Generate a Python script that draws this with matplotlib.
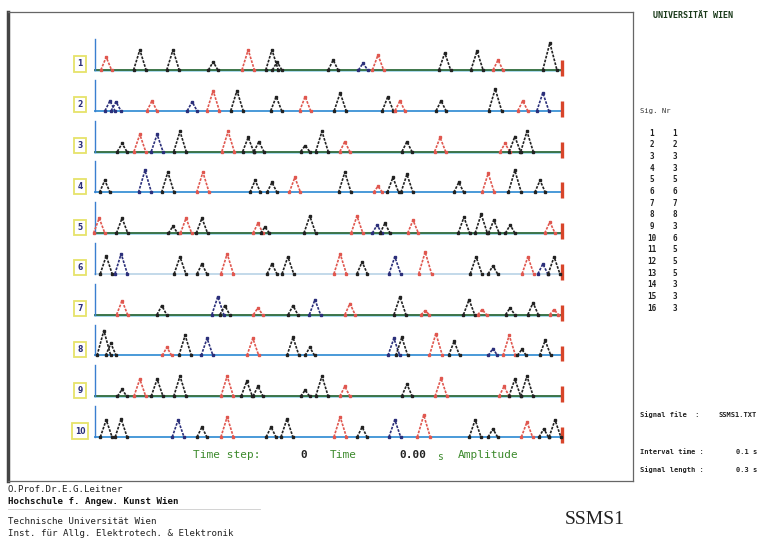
import numpy as np
import matplotlib
matplotlib.use('Agg')
import matplotlib.pyplot as plt

# peak positions (percent of signal length), amplitudes and colours, per row
pos1 = [2.4, 9.6, 16.7, 25.3, 32.8, 37.9, 39.0, 51.0, 57.4, 60.6, 74.9, 81.8, 86.3, 97.4]
amp1 = [0.43, 0.67, 0.67, 0.27, 0.67, 0.67, 0.27, 0.33, 0.23, 0.5, 0.57, 0.63, 0.33, 0.9]
col1 = 'rkkkrkkkbrkkrk'

pos2 = [3.2, 4.5, 12.2, 20.8, 25.3, 30.4, 38.8, 45.0, 52.5, 62.7, 65.3, 74.1, 85.7, 91.6, 95.9]
amp2 = [0.33, 0.3, 0.33, 0.3, 0.67, 0.67, 0.47, 0.47, 0.6, 0.47, 0.33, 0.33, 0.73, 0.33, 0.6]
col2 = 'bbrbrkkrkkrkkrb'

pos3 = [5.8, 9.6, 13.3, 18.2, 28.5, 32.8, 35.1, 45.0, 48.6, 53.5, 66.8, 73.9, 87.8, 89.9, 92.5]
amp3 = [0.27, 0.57, 0.57, 0.67, 0.67, 0.47, 0.33, 0.2, 0.67, 0.33, 0.33, 0.47, 0.27, 0.5, 0.67]
col3 = 'krbkrkkkkrkrrkk'

pos4 = [2.1, 10.7, 15.6, 23.1, 34.3, 37.9, 42.8, 53.5, 60.6, 63.8, 66.8, 77.9, 84.2, 89.9, 95.3]
amp4 = [0.4, 0.73, 0.67, 0.67, 0.4, 0.33, 0.5, 0.67, 0.2, 0.5, 0.6, 0.33, 0.63, 0.73, 0.4]
col4 = 'kbkrkkrkrkkkrkk'

pos5 = [0.9, 5.8, 16.7, 19.5, 22.9, 34.9, 36.4, 46.0, 56.1, 60.4, 62.1, 68.1, 79.0, 82.7, 85.4, 88.9, 97.4]
amp5 = [0.5, 0.5, 0.23, 0.5, 0.5, 0.33, 0.2, 0.57, 0.57, 0.27, 0.33, 0.43, 0.53, 0.63, 0.43, 0.27, 0.37]
col5 = 'rkkrkrkkrbkrkkkkr'

pos6 = [2.4, 5.6, 18.2, 22.9, 28.3, 37.9, 41.3, 52.5, 57.2, 64.2, 70.7, 81.6, 85.2, 92.7, 95.9, 98.3]
amp6 = [0.6, 0.67, 0.57, 0.33, 0.67, 0.33, 0.57, 0.67, 0.4, 0.57, 0.73, 0.57, 0.27, 0.57, 0.33, 0.57]
col6 = 'kbkkrkkrkbrkkrbk'

pos7 = [5.8, 14.3, 26.3, 27.8, 34.9, 42.4, 47.1, 54.6, 65.3, 70.7, 80.1, 82.9, 88.9, 93.8, 98.3]
amp7 = [0.47, 0.3, 0.6, 0.3, 0.23, 0.3, 0.5, 0.37, 0.6, 0.13, 0.5, 0.17, 0.23, 0.4, 0.17]
col7 = 'rkbkrkbrkrkrkkr'

pos8 = [1.9, 3.4, 15.4, 19.3, 24.0, 33.8, 42.4, 46.0, 64.0, 65.7, 73.0, 76.9, 85.2, 88.7, 91.4, 96.4]
amp8 = [0.83, 0.4, 0.27, 0.67, 0.57, 0.57, 0.6, 0.27, 0.57, 0.6, 0.73, 0.47, 0.23, 0.67, 0.2, 0.5]
col8 = 'kkrkbrkkbkrkbrkk'

pos9 = [5.8, 9.6, 13.3, 18.2, 28.3, 32.5, 34.9, 45.0, 48.6, 53.5, 66.8, 74.1, 87.6, 89.9, 92.5]
amp9 = [0.23, 0.57, 0.57, 0.67, 0.67, 0.5, 0.33, 0.2, 0.67, 0.33, 0.4, 0.6, 0.33, 0.57, 0.67]
col9 = 'krkkrkkkkrkrrkk'

pos10 = [2.4, 5.6, 17.8, 22.9, 28.3, 37.7, 41.1, 52.5, 57.2, 64.2, 70.4, 81.4, 85.2, 92.5, 96.1, 98.5]
amp10 = [0.57, 0.6, 0.57, 0.33, 0.67, 0.33, 0.6, 0.67, 0.33, 0.57, 0.73, 0.57, 0.27, 0.5, 0.27, 0.57]
col10 = 'kkbkrkkrkbrkkrkk'

rows = [(pos1, amp1, col1), (pos2, amp2, col2), (pos3, amp3, col3), (pos4, amp4, col4),
        (pos5, amp5, col5), (pos6, amp6, col6), (pos7, amp7, col7), (pos8, amp8, col8),
        (pos9, amp9, col9), (pos10, amp10, col10)]
row_labels = ['1', '2', '3', '4', '5', '6', '7', '8', '9', '10']
base_style = ['g', 'b', 'g', 'b', 'g', 'l', 'g', 'b', 'g', 'b']

sig_nr = [str(i) for i in range(1, 17)]
sig_val = ['1', '2', '3', '3', '5', '6', '7', '8', '3', '6', '5', '5', '5', '3', '3', '3']

colors = {'k': '#222222', 'r': '#e0574f', 'b': '#2b2f7a'}

W, H = 761, 543
fig = plt.figure(figsize=(W / 100, H / 100), dpi=100)

def fx(px):
    return px / W

def fy(py):
    return 1 - py / H

# outer frame
frame = fig.add_axes([fx(8), fy(481), fx(625), 469 / H])
frame.set_xticks([])
frame.set_yticks([])
for s in frame.spines.values():
    s.set_color('#666666')
    s.set_linewidth(0.9)
frame.spines['left'].set_linewidth(2.5)
frame.spines['left'].set_color('#444444')

# main plotting area: t from 0..100 maps to px 95..562, 1 amplitude unit = 30 px
px_per_t = 4.67
px_per_a = 30.0
spacing = (437 - 70) / 9 / px_per_a
ax = fig.add_axes([fx(60), fy(460), fx(540), 440 / H])
ax.set_xlim((60 - 95) / px_per_t, (600 - 95) / px_per_t)
ax.set_ylim(-(460 - 70) / px_per_a, (70 - 20) / px_per_a)
ax.axis('off')
ax.patch.set_alpha(0)

for i, (pos, amp, col) in enumerate(rows):
    y0 = -i * spacing
    st = base_style[i]
    if st == 'g':
        ax.plot([0, 100], [y0 - 0.04, y0 - 0.04], color='#9cd3ea', lw=1.2, zorder=1)
        ax.plot([0, 100], [y0, y0], color='#2e6b3c', lw=1.3, zorder=2)
    elif st == 'b':
        ax.plot([0, 100], [y0, y0], color='#4a9ad8', lw=1.4, zorder=2)
    else:
        ax.plot([0, 100], [y0, y0], color='#b9d3e6', lw=1.2, zorder=2)
    # left axis line
    ax.plot([0, 0], [y0, y0 + 1.03], color='#3a7fd0', lw=1.0, zorder=2)
    # end marker
    ax.plot([100, 100], [y0 - 0.2, y0 + 0.33], color='#d8452a', lw=2.4,
            solid_capstyle='butt', zorder=3)
    # row label box
    ax.text(-3.2, y0 + 0.2, row_labels[i], ha='center', va='center',
            fontsize=5.5, fontweight='bold', color='#2b2f7a', family='DejaVu Sans',
            bbox=dict(boxstyle='square,pad=0.4', fc='white', ec='#e6e36a', lw=1.3))
    for p, a, c in zip(pos, amp, col):
        hw = 0.8 + a * 0.8
        xs = [p - hw, p, p + hw]
        ys = [y0, y0 + a, y0]
        ax.plot(xs, ys, color=colors[c], lw=1.2, linestyle=(0, (1.6, 0.8)), zorder=4)
        ax.plot(xs, ys, linestyle='none', marker='s', markersize=1.8,
                color=colors[c], zorder=5)

mono = 'DejaVu Sans Mono'

# header top right
fig.text(fx(653), fy(15), 'UNIVERSITÄT WIEN', fontsize=6, fontweight='bold',
         family=mono, color='#1a3a1a', va='center')

# legend on the right
fig.text(fx(640), fy(111), 'Sig. Nr', fontsize=5.2, family=mono, color='#333333', va='center')
for k, (a, b) in enumerate(zip(sig_nr, sig_val)):
    yy = 133 + k * 11.67
    fig.text(fx(652), fy(yy), a, fontsize=5.5, fontweight='bold', family=mono,
             color='#222222', ha='center', va='center')
    fig.text(fx(675), fy(yy), b, fontsize=5.5, fontweight='bold', family=mono,
             color='#222222', ha='center', va='center')

info_labels = ['Signal file  :', 'Interval time :', 'Signal length :']
info_values = ['SSMS1.TXT', '0.1 s', '0.3 s']
info_y = [415, 452, 470]
for lab, val, yy in zip(info_labels, info_values, info_y):
    fig.text(fx(640), fy(yy), lab, fontsize=5, fontweight='bold', family=mono,
             color='#222222', va='center')
    fig.text(fx(757), fy(yy), val, fontsize=5, fontweight='bold', family=mono,
             color='#222222', va='center', ha='right')

# status line under the plot
green = '#3c8a2c'
fig.text(fx(193), fy(455), 'Time step:', fontsize=8, family=mono, color=green, va='center')
fig.text(fx(300), fy(455), '0', fontsize=8, fontweight='bold', family=mono, color='#222222', va='center')
fig.text(fx(330), fy(455), 'Time', fontsize=8, family=mono, color=green, va='center')
fig.text(fx(399), fy(455), '0.00', fontsize=8, fontweight='bold', family=mono, color='#222222', va='center')
fig.text(fx(437), fy(457), 's', fontsize=7, family=mono, color=green, va='center')
fig.text(fx(458), fy(455), 'Amplitude', fontsize=8, family=mono, color=green, va='center')

# credits bottom left
fig.text(fx(8), fy(490), 'O.Prof.Dr.E.G.Leitner', fontsize=6.6, family=mono,
         color='#222222', va='center')
fig.text(fx(8), fy(502), 'Hochschule f. Angew. Kunst Wien', fontsize=6.6, fontweight='bold',
         family=mono, color='#111111', va='center')
fig.add_artist(plt.Line2D([fx(8), fx(260)], [fy(509), fy(509)], color='#cccccc', lw=0.6))
fig.text(fx(8), fy(521), 'Technische Universität Wien', fontsize=6.6, family=mono,
         color='#222222', va='center')
fig.text(fx(8), fy(533), 'Inst. für Allg. Elektrotech. & Elektronik', fontsize=6.6,
         family=mono, color='#222222', va='center')

fig.text(fx(565), fy(520), 'SSMS1', fontsize=14, family='Liberation Serif',
         color='#222222', va='center')

fig.savefig('out.png', dpi=100)
